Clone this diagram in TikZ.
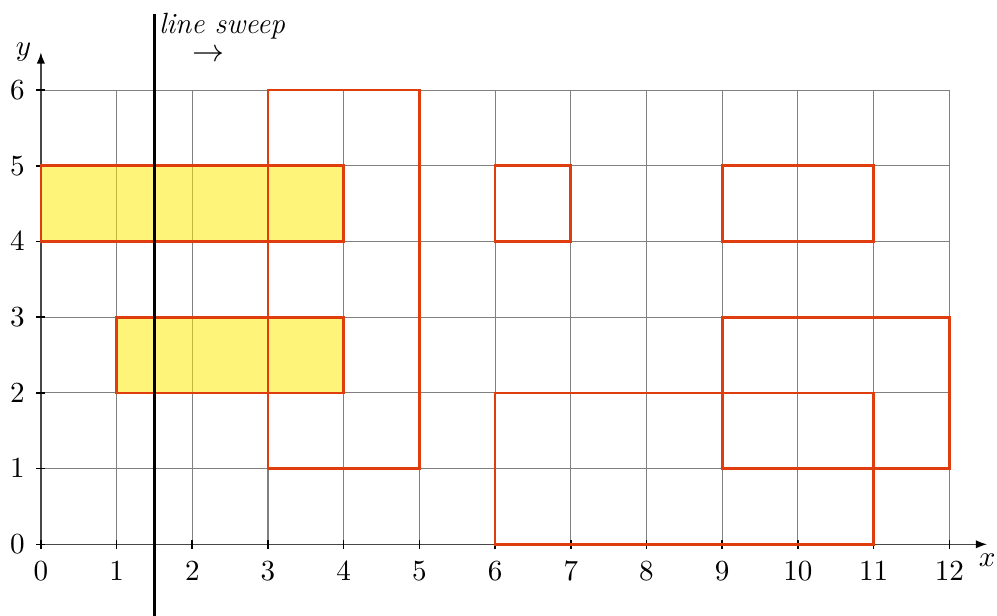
\documentclass[tikz,border=0pt]{standalone}
\usepackage{tikz}
\usetikzlibrary{arrows.meta,positioning}
\definecolor{rectred}{HTML}{E03D0E}
\definecolor{hityellow}{HTML}{FFE900}

\begin{document}
\begin{tikzpicture}[
  every node/.style={font=\fontsize{11}{13}\selectfont},
  rect/.style={draw=rectred, line width=1pt},
  hit/.style={fill=hityellow, fill opacity=0.52},
  axis/.style={-{Latex[length=1.5mm,width=1.1mm,black]}, black!72, semithick},
  tickmark/.style={black, semithick}
]
  \useasboundingbox (-0.54,-0.94) rectangle (12.63,7.19);
  % grid
  \draw[gray, thin] (0,0) grid (12,6);
  % rectangles cut by the sweep line
  \fill[hit] (0,4) rectangle (4,5);
  \fill[hit] (1,2) rectangle (4,3);
  % axes
  \draw[axis] (0,0) -- (12.5,0) node[below, text=black] (xlab) {$x$};
  \draw[axis] (0,0) -- (0,6.5) node[left, text=black] (ylab) {$y$};
  \foreach \i in {0,...,12} {
    \draw[tickmark] (\i,-0.06) -- (\i,0.06);
    \node (xt\i) at (\i,-0.35) {$\i$};
  }
  \foreach \j in {0,...,6} {
    \draw[tickmark] (-0.06,\j) -- (0.06,\j);
    \node (yt\j) at (-0.31,\j) {$\j$};
  }
  % rectangles
  \draw[rect] (0,4) rectangle (4,5);
  \draw[rect] (1,2) rectangle (4,3);
  \draw[rect] (3,1) rectangle (5,6);
  \draw[rect] (6,4) rectangle (7,5);
  \draw[rect] (9,4) rectangle (11,5);
  \draw[rect] (9,1) rectangle (12,3);
  \draw[rect] (6,0) rectangle (11,2);
  % sweep line
  \coordinate (sweepbot) at (1.5,-1);
  \coordinate (sweeptop) at (1.5,7);
  \draw[black, line width=1.3pt] (sweepbot) -- (sweeptop);
  \node[anchor=base west, inner sep=1pt] (sweeplab) at (1.52,6.75) {\textit{line sweep}};
  \node[font=\fontsize{12}{14}\selectfont, inner sep=1pt] (sweepdir) at (2.21,6.46) {$\rightarrow$};
\end{tikzpicture}
\end{document}
